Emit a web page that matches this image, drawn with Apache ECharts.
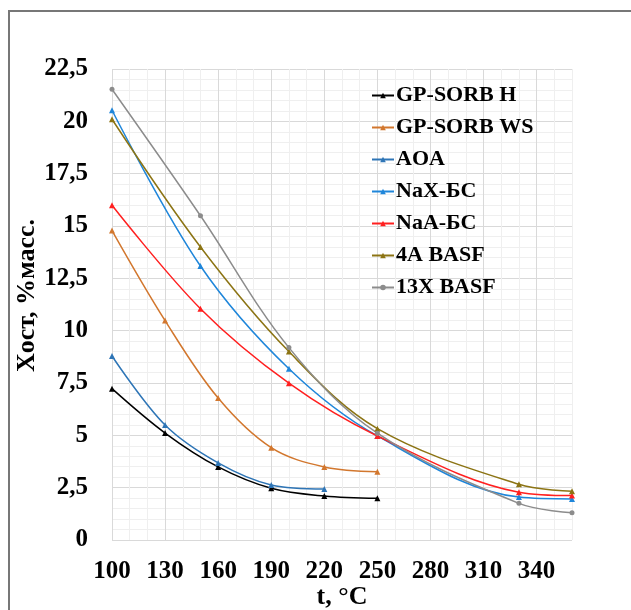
<!DOCTYPE html>
<html>
<head>
<meta charset="utf-8">
<script src="https://cdn.jsdelivr.net/npm/echarts@6/dist/echarts.min.js"></script>
<style>
  html, body { margin: 0; padding: 0; background: #fff; }
  #chart { width: 631px; height: 610px; }
</style>
</head>
<body>
<div id="chart"></div>
<script>
// температуры, °C
var tempsShort = [100, 130, 160, 190, 220, 250];
var tempsAOA = [100, 130, 160, 190, 220];
var tempsLong = [100, 150, 200, 250, 330, 360];

// остаточное содержание, %масс.
var gpSorbH = [7.23, 5.11, 3.49, 2.47, 2.1, 1.99];
var gpSorbWS = [14.78, 10.48, 6.78, 4.41, 3.49, 3.26];
var aoa = [8.79, 5.49, 3.68, 2.63, 2.44];
var naxBS = [20.53, 13.09, 8.18, 4.97, 2.05, 1.96];
var naaBS = [15.99, 11.05, 7.49, 4.97, 2.28, 2.12];
var basf4A = [20.1, 14.0, 9.0, 5.32, 2.66, 2.33];
var basf13X = [21.53, 15.49, 9.19, 5.1, 1.75, 1.3];

var xTicks = [100, 130, 160, 190, 220, 250, 280, 310, 340];

function pairs(xs, ys) {
    return ys.map(function (y, i) {
        return [xs[i], y];
    });
}

var myChart = echarts.init(document.getElementById('chart'));

var serif = '"Liberation Serif", "DejaVu Serif", serif';

function makeSeries(name, xs, ys, color, symbol) {
    return {
        name: name,
        type: 'line',
        smooth: 0.35,
        symbol: symbol || 'triangle',
        symbolSize: symbol === 'circle' ? 5 : 6,
        itemStyle: {color: color},
        lineStyle: {color: color, width: 1.5},
        data: pairs(xs, ys)
    };
}

var option = {
    animation: false,
    backgroundColor: '#fff',
    graphic: [{
        type: 'rect',
        shape: {x: 9, y: 11, width: 660, height: 640},
        style: {fill: 'none', stroke: '#777', lineWidth: 2},
        silent: true
    }],
    grid: {left: 112, top: 69, width: 460, height: 471, outerBoundsMode: 'none', containLabel: false},
    legend: {
        orient: 'vertical',
        left: 366,
        top: 79,
        itemWidth: 22,
        itemHeight: 7,
        itemGap: 9,
        textStyle: {
            fontFamily: serif,
            fontWeight: 'bold',
            fontSize: 22,
            lineHeight: 23,
            padding: [0, 0, 0, -3],
            color: '#000'
        },
        data: ['GP-SORB H', 'GP-SORB WS', 'AOA', 'NaX-БС', 'NaA-БС', '4A BASF', '13X BASF']
    },
    xAxis: {
        type: 'value',
        min: 100,
        max: 360,
        interval: 10,
        name: 't, °C',
        nameLocation: 'middle',
        nameGap: 44,
        nameMoveOverlap: false,
        nameTextStyle: {fontFamily: serif, fontWeight: 'bold', fontSize: 26, color: '#000'},
        axisLine: {show: false},
        axisTick: {show: false},
        axisLabel: {
            margin: 19,
            fontFamily: serif,
            fontWeight: 'bold',
            fontSize: 25,
            color: '#000',
            showMaxLabel: false,
            formatter: function (v) {
                return xTicks.indexOf(v) >= 0 ? String(v) : '';
            }
        },
        splitLine: {
            show: true,
            lineStyle: {color: ['#d9d9d9', '#efefef', '#efefef'], width: 1}
        }
    },
    yAxis: {
        type: 'value',
        min: 0,
        max: 22.5,
        interval: 2.5,
        name: 'Xост, %масс.',
        nameLocation: 'middle',
        nameGap: 72,
        nameMoveOverlap: false,
        nameTextStyle: {
            fontFamily: serif,
            fontWeight: 'bold',
            fontSize: 26,
            color: '#000',
            padding: [0, 0, 0, 18]
        },
        axisLine: {show: false},
        axisTick: {show: false},
        axisLabel: {
            margin: 24,
            fontFamily: serif,
            fontWeight: 'bold',
            fontSize: 25,
            color: '#000',
            formatter: function (v) {
                return String(v).replace('.', ',');
            }
        },
        splitLine: {lineStyle: {color: '#d9d9d9', width: 1}},
        minorTick: {show: false, splitNumber: 5},
        minorSplitLine: {show: true, lineStyle: {color: '#efefef', width: 1}}
    },
    series: [
        makeSeries('GP-SORB H', tempsShort, gpSorbH, '#000000'),
        makeSeries('GP-SORB WS', tempsShort, gpSorbWS, '#D2772E'),
        makeSeries('AOA', tempsAOA, aoa, '#2E75B6'),
        makeSeries('NaX-БС', tempsLong, naxBS, '#1F86DA'),
        makeSeries('NaA-БС', tempsLong, naaBS, '#FF2020'),
        makeSeries('4A BASF', tempsLong, basf4A, '#8C7414'),
        makeSeries('13X BASF', tempsLong, basf13X, '#8C8C8C', 'circle')
    ]
};

myChart.setOption(option);
</script>
</body>
</html>
